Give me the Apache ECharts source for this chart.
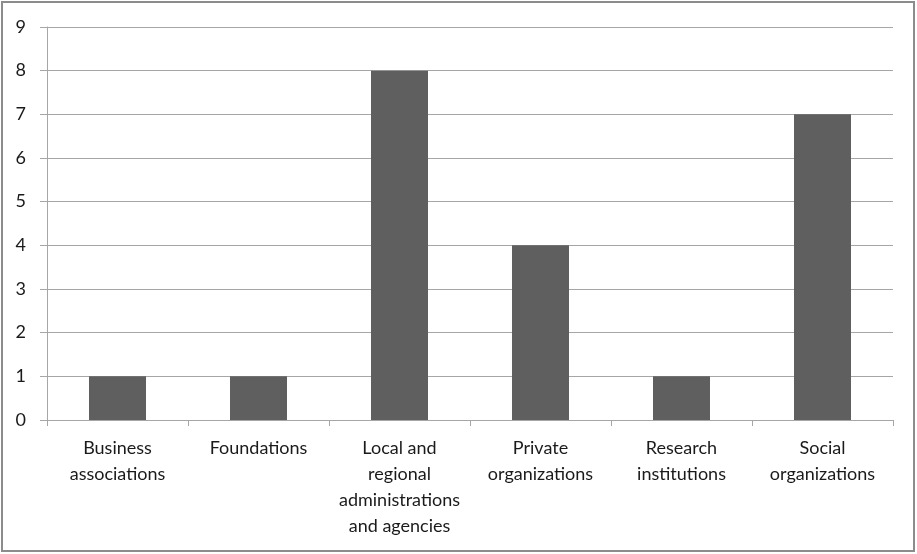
<!DOCTYPE html>
<html>
<head>
<meta charset="utf-8">
<script src="https://cdn.jsdelivr.net/npm/echarts@6/dist/echarts.min.js"></script>
<style>
  html, body { margin: 0; padding: 0; background: #fff; }
  #chart { width: 917px; height: 554px; }
</style>
</head>
<body>
<div id="chart"></div>
<script>
const categories = [
  'Business\nassociations',
  'Foundations',
  'Local and\nregional\nadministrations\nand agencies',
  'Private\norganizations',
  'Research\ninstitutions',
  'Social\norganizations'
]
const counts = [1, 1, 8, 4, 1, 7]

const gridColor = '#a6a6a6'
const font = 'Lato, "Open Sans", sans-serif'

const myChart = echarts.init(document.getElementById('chart'))
myChart.setOption({
  animation: false,
  graphic: [
    {
      type: 'rect',
      shape: { x: 2, y: 2, width: 912, height: 549 },
      style: { fill: 'none', stroke: '#8c8c8c', lineWidth: 2 },
      silent: true
    }
  ],
  grid: {
    left: 47,
    right: 24,
    top: 27,
    bottom: 134
  },
  xAxis: {
    type: 'category',
    data: categories,
    axisLine: { lineStyle: { color: gridColor, width: 1 } },
    axisTick: { show: true, length: 6, lineStyle: { color: gridColor } },
    axisLabel: {
      color: '#1a1a1a',
      fontFamily: font,
      fontSize: 18,
      lineHeight: 26,
      margin: 15,
      interval: 0
    }
  },
  yAxis: {
    type: 'value',
    min: 0,
    max: 9,
    interval: 1,
    axisLine: { show: true, lineStyle: { color: gridColor } },
    axisTick: { show: true, length: 7, lineStyle: { color: gridColor } },
    splitLine: { lineStyle: { color: gridColor } },
    axisLabel: {
      color: '#1a1a1a',
      fontFamily: font,
      fontSize: 18,
      margin: 21
    }
  },
  series: [
    {
      type: 'bar',
      data: counts,
      barWidth: 57,
      itemStyle: { color: '#5f5f5f' }
    }
  ]
})
</script>
</body>
</html>
